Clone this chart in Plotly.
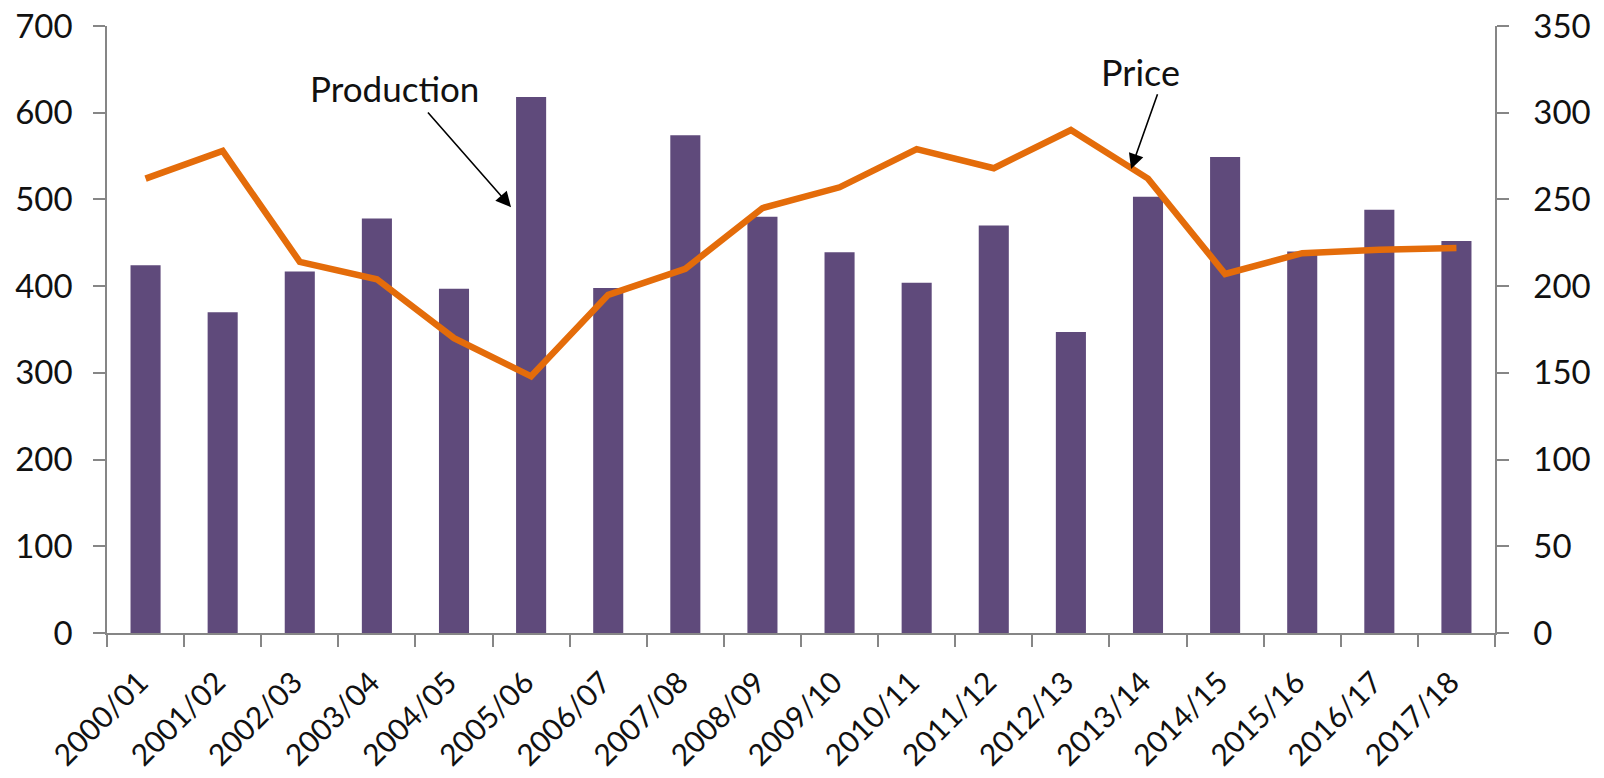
import plotly.graph_objects as go

seasons = ["2000/01", "2001/02", "2002/03", "2003/04", "2004/05", "2005/06",
           "2006/07", "2007/08", "2008/09", "2009/10", "2010/11", "2011/12",
           "2012/13", "2013/14", "2014/15", "2015/16", "2016/17", "2017/18"]
production = [424, 370, 417, 478, 397, 618, 398, 574, 480, 439, 404, 470,
              347, 503, 549, 440, 488, 452]
price = [262, 278, 214, 204, 170, 148, 195, 210, 245, 257, 279, 268,
         290, 262, 207, 219, 221, 222]

FONT = "Lato"
AX = "#868686"
TXT = "#111111"

fig = go.Figure()
fig.add_trace(go.Bar(x=seasons, y=production, marker=dict(color="#5F4A7B", line=dict(width=0)),
                     name="Production", yaxis="y"))
fig.add_trace(go.Scatter(x=seasons, y=price, mode="lines", line=dict(color="#E46C0A", width=6.5),
                         name="Price", yaxis="y2"))

fig.update_layout(
    width=1604, height=778,
    margin=dict(l=107, r=109, t=26, b=145, autoexpand=False),
    paper_bgcolor="white", plot_bgcolor="white",
    showlegend=False,
    bargap=0.61,
    font=dict(family=FONT, size=32, color=TXT),
    xaxis=dict(type="category", tickangle=-45, tickson="boundaries", ticks="outside",
               ticklen=12, tickcolor=AX, tickwidth=1.5, showline=True, linecolor=AX, linewidth=1.5,
               showgrid=False, tickfont=dict(size=30), range=[-0.5, 17.5], automargin=False,
               ticklabelstandoff=18, ticklabelshift=-6),
    yaxis=dict(range=[0, 700], dtick=100, ticks="outside", ticklen=12, tickcolor=AX, tickwidth=1.5,
               showline=True, linecolor=AX, linewidth=1.5, showgrid=False, zeroline=False,
               tickfont=dict(size=33), automargin=False, ticklabelstandoff=14),
    yaxis2=dict(range=[0, 350], dtick=50, overlaying="y", side="right", ticks="outside", ticklen=12,
                tickcolor=AX, tickwidth=1.5, showline=True, linecolor=AX, linewidth=1.5,
                showgrid=False, zeroline=False, tickfont=dict(size=33), automargin=False,
                ticklabelstandoff=18),
)

# Labels
fig.add_annotation(x=3.23, y=628, xref="x", yref="y", text="Production", showarrow=False,
                   font=dict(size=35, color=TXT))
fig.add_annotation(x=12.9, y=647, xref="x", yref="y", text="Price", showarrow=False,
                   font=dict(size=36, color=TXT))
# Arrows
fig.add_annotation(x=4.74, y=491, xref="x", yref="y", ax=3.645, ay=602, axref="x", ayref="y",
                   text="", showarrow=True, arrowhead=2, arrowsize=1.9, arrowwidth=1.6, arrowcolor="#000000")
fig.add_annotation(x=12.78, y=535, xref="x", yref="y", ax=13.13, ay=623, axref="x", ayref="y",
                   text="", showarrow=True, arrowhead=2, arrowsize=1.9, arrowwidth=1.6, arrowcolor="#000000")

fig.write_html("out.html", config={"displayModeBar": False},
               post_script="document.body.style.margin='0';")
